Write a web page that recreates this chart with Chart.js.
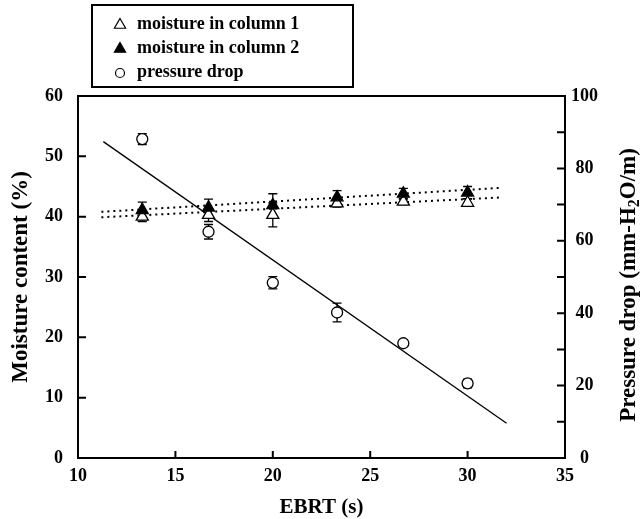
<!DOCTYPE html>
<html>
<head>
<meta charset="utf-8">
<script src="https://cdn.jsdelivr.net/npm/chart.js@4.4.0/dist/chart.umd.min.js"></script>
<style>
  html, body { margin: 0; padding: 0; background: #fff; }
  #wrap { width: 641px; height: 519px; }
</style>
</head>
<body>
<div id="wrap"><canvas id="chart" width="641" height="519"></canvas></div>
<script>
// values
const ebrt = [13.3, 16.7, 20, 23.3, 26.7, 30];
const moistureCol1 = [40.0, 40.3, 40.3, 42.2, 42.5, 42.3];
const moistureCol1Err = [0.8, 1.1, 2.0, 0.6, 0.5, 0.6];
const moistureCol2 = [41.1, 41.5, 41.9, 43.2, 43.8, 44.0];
const moistureCol2Err = [1.3, 1.4, 1.9, 1.1, 0.9, 1.0];
const pressureDrop = [88.1, 62.5, 48.4, 40.2, 31.7, 20.6];
const pressureDropErr = [1.5, 2.0, 1.7, 2.6, 0.8, 1.2];

// fitted lines (end points)
const fitCol1X = [11.2, 31.8];
const fitCol1Y = [39.9, 43.2];
const fitCol2X = [11.2, 31.8];
const fitCol2Y = [40.8, 44.8];
const fitPressureX = [11.3, 32.0];
const fitPressureY = [87.4, 9.6];

const xTicks = [10, 15, 20, 25, 30, 35];
const moistureTicks = [0, 10, 20, 30, 40, 50, 60];
const pressureTicks = [0, 20, 40, 60, 80, 100];
const pressureMinorTicks = [10, 30, 50, 70, 90];

const serif = "'Liberation Serif', 'Times New Roman', serif";

function pts(xs, ys) {
  return xs.map((x, i) => ({ x: x, y: ys[i] }));
}

const errorBars = {
  id: 'errorBars',
  beforeDatasetsDraw(chart) {
    const ctx = chart.ctx;
    ctx.save();
    ctx.strokeStyle = '#000';
    ctx.lineWidth = 1.3;
    chart.data.datasets.forEach((ds) => {
      if (!ds.errors) return;
      const xs = chart.scales.x;
      const ys = chart.scales[ds.yAxisID];
      ds.data.forEach((p, i) => {
        const e = ds.errors[i];
        const px = xs.getPixelForValue(p.x);
        const top = ys.getPixelForValue(p.y + e);
        const bot = ys.getPixelForValue(p.y - e);
        ctx.beginPath();
        ctx.moveTo(px, top); ctx.lineTo(px, bot);
        ctx.moveTo(px - 4.5, top); ctx.lineTo(px + 4.5, top);
        ctx.moveTo(px - 4.5, bot); ctx.lineTo(px + 4.5, bot);
        ctx.stroke();
      });
    });
    ctx.restore();
  }
};

const frameAndTicks = {
  id: 'frameAndTicks',
  afterDraw(chart) {
    const ctx = chart.ctx;
    const a = chart.chartArea;
    const x = chart.scales.x, y = chart.scales.y, y2 = chart.scales.y2;
    ctx.save();
    ctx.strokeStyle = '#000';
    ctx.lineWidth = 2;
    ctx.strokeRect(a.left, a.top, a.right - a.left, a.bottom - a.top);
    ctx.beginPath();
    xTicks.forEach(v => {
      const px = x.getPixelForValue(v);
      ctx.moveTo(px, a.bottom); ctx.lineTo(px, a.bottom - 7);
    });
    moistureTicks.forEach(v => {
      const py = y.getPixelForValue(v);
      ctx.moveTo(a.left, py); ctx.lineTo(a.left + 8, py);
    });
    pressureTicks.concat(pressureMinorTicks).forEach(v => {
      const py = y2.getPixelForValue(v);
      ctx.moveTo(a.right, py); ctx.lineTo(a.right - 8, py);
    });
    ctx.stroke();

    // right axis title with subscript
    ctx.fillStyle = '#000';
    ctx.translate(629, (a.top + a.bottom) / 2 + 8);
    ctx.rotate(-Math.PI / 2);
    const big = 'bold 23px ' + serif, small = 'bold 16px ' + serif;
    const parts = [['Pressure drop (mm-H', big, 0], ['2', small, 6], ['O/m)', big, 0]];
    let w = 0;
    parts.forEach(p => { ctx.font = p[1]; w += ctx.measureText(p[0]).width; });
    let cx = -w / 2;
    ctx.textBaseline = 'middle';
    ctx.textAlign = 'left';
    parts.forEach(p => {
      ctx.font = p[1];
      ctx.fillText(p[0], cx, p[2]);
      cx += ctx.measureText(p[0]).width;
    });
    ctx.restore();

    // legend box
    ctx.save();
    ctx.strokeStyle = '#000';
    ctx.lineWidth = 2;
    ctx.strokeRect(92, 5, 261, 82);
    ctx.font = 'bold 18px ' + serif;
    ctx.fillStyle = '#000';
    ctx.textBaseline = 'middle';
    const rows = [24, 48, 72];
    chart.data.datasets.filter(d => d.inLegend).sort((p, q) => p.inLegend - q.inLegend).forEach((ds, i) => {
      const isCircle = ds.pointStyle === 'circle';
      ctx.fillStyle = ds.pointBackgroundColor;
      ctx.strokeStyle = '#000';
      ctx.lineWidth = 1.2;
      Chart.helpers.drawPoint(ctx, { pointStyle: ds.pointStyle, radius: isCircle ? 4.5 : 6.5, borderWidth: 1.2 }, 120, rows[i] + 1);
      ctx.fillStyle = '#000';
      ctx.fillText(ds.label, 137, rows[i]);
    });
    ctx.restore();
  }
};

new Chart(document.getElementById('chart'), {
  type: 'scatter',
  data: {
    datasets: [
      {
        label: 'pressure drop', inLegend: 3,
        data: pts(ebrt, pressureDrop), errors: pressureDropErr, yAxisID: 'y2',
        pointStyle: 'circle', pointRadius: 5.5, pointBorderWidth: 1.3,
        pointBackgroundColor: '#fff', pointBorderColor: '#000', showLine: false
      },
      {
        label: 'moisture in column 2', inLegend: 2,
        data: pts(ebrt, moistureCol2), errors: moistureCol2Err, yAxisID: 'y',
        pointStyle: 'triangle', pointRadius: 7, pointBorderWidth: 1.2,
        pointBackgroundColor: '#000', pointBorderColor: '#000', showLine: false
      },
      {
        label: 'moisture in column 1', inLegend: 1,
        data: pts(ebrt, moistureCol1), errors: moistureCol1Err, yAxisID: 'y',
        pointStyle: 'triangle', pointRadius: 7, pointBorderWidth: 1.3,
        pointBackgroundColor: '#fff', pointBorderColor: '#000', showLine: false
      },
      {
        label: 'fit column 2', data: pts(fitCol2X, fitCol2Y), yAxisID: 'y',
        showLine: true, borderColor: '#000', borderWidth: 2, borderDash: [2, 4],
        pointRadius: 0
      },
      {
        label: 'fit column 1', data: pts(fitCol1X, fitCol1Y), yAxisID: 'y',
        showLine: true, borderColor: '#000', borderWidth: 2, borderDash: [2, 4],
        pointRadius: 0
      },
      {
        label: 'fit pressure', data: pts(fitPressureX, fitPressureY), yAxisID: 'y2',
        showLine: true, borderColor: '#000', borderWidth: 1.3,
        pointRadius: 0
      }
    ]
  },
  options: {
    responsive: false,
    animation: false,
    events: [],
    layout: { padding: { top: 96, left: 0, right: 0, bottom: 0 } },
    plugins: { legend: { display: false }, tooltip: { enabled: false } },
    scales: {
      x: {
        type: 'linear', position: 'bottom', min: 10, max: 35,
        afterFit(s) { s.height = 61; },
        afterBuildTicks(s) { s.ticks = xTicks.map(v => ({ value: v })); },
        grid: { display: false, drawTicks: false },
        border: { display: false },
        ticks: { color: '#000', padding: 8, font: { family: serif, size: 18, weight: 'bold' } },
        title: { display: true, text: 'EBRT (s)', color: '#000', padding: { top: 0, bottom: 1 },
                 font: { family: serif, size: 21, weight: 'bold', lineHeight: 1 } }
      },
      y: {
        type: 'linear', position: 'left', min: 0, max: 60,
        afterFit(s) { s.width = 78; },
        afterBuildTicks(s) { s.ticks = moistureTicks.map(v => ({ value: v })); },
        grid: { display: false, drawTicks: false },
        border: { display: false },
        ticks: { color: '#000', padding: 15, font: { family: serif, size: 18, weight: 'bold' } },
        title: { display: true, text: 'Moisture content (%)', color: '#000', padding: { top: 10, bottom: 0 },
                 font: { family: serif, size: 23, weight: 'bold', lineHeight: 1 } }
      },
      y2: {
        type: 'linear', position: 'right', min: 0, max: 100,
        afterFit(s) { s.width = 76; },
        afterBuildTicks(s) { s.ticks = pressureTicks.map(v => ({ value: v })); },
        grid: { display: false, drawTicks: false },
        border: { display: false },
        ticks: { color: '#000', padding: 6, crossAlign: 'center', font: { family: serif, size: 18, weight: 'bold' } }
      }
    }
  },
  plugins: [errorBars, frameAndTicks]
});
</script>
</body>
</html>
